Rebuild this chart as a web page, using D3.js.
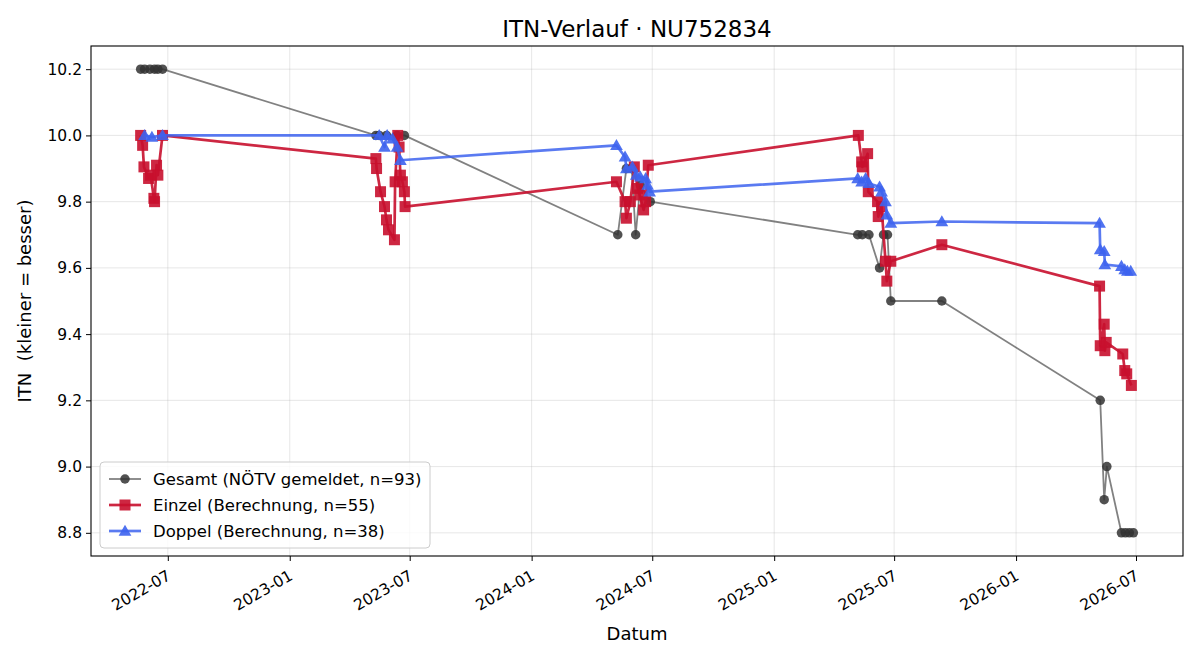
<!DOCTYPE html>
<html>
<head>
<meta charset="utf-8">
<script src="https://cdn.jsdelivr.net/npm/d3@7"></script>
<style>
  body { margin: 0; background: #fff; }
  svg text { font-family: "DejaVu Sans", sans-serif; }
</style>
</head>
<body>
<div id="chart"></div>
<script>
// ITN history per date, three series
const gesamtDates = [
    "2022-05-21", "2022-05-27", "2022-06-04", "2022-06-11", "2022-06-16", "2022-06-23",
    "2023-05-11", "2023-05-16", "2023-05-27", "2023-06-12", "2023-06-23",
    "2024-05-10", "2024-05-23", "2024-05-31", "2024-06-06", "2024-06-13", "2024-06-28",
    "2025-05-07", "2025-05-14", "2025-05-24", "2025-06-09", "2025-06-15", "2025-06-21", "2025-06-26",
    "2025-09-11",
    "2026-05-08", "2026-05-14", "2026-05-18", "2026-06-09", "2026-06-15", "2026-06-21", "2026-06-27"
];
const gesamtValues = [
    10.2, 10.2, 10.2, 10.2, 10.2, 10.2,
    10.0, 10.0, 10.0, 10.0, 10.0,
    9.7, 9.9, 9.9, 9.7, 9.85, 9.8,
    9.7, 9.7, 9.7, 9.6, 9.7, 9.7, 9.5,
    9.5,
    9.2, 8.9, 9.0, 8.8, 8.8, 8.8, 8.8
];

const einzelDates = [
    "2022-05-21", "2022-05-24", "2022-05-26", "2022-06-02", "2022-06-05", "2022-06-10",
    "2022-06-11", "2022-06-14", "2022-06-16", "2022-06-23",
    "2023-05-11", "2023-05-12", "2023-05-18", "2023-05-24", "2023-05-27", "2023-05-30",
    "2023-06-08", "2023-06-09", "2023-06-13", "2023-06-15", "2023-06-17", "2023-06-20",
    "2023-06-23", "2023-06-24",
    "2024-05-08", "2024-05-21", "2024-05-23", "2024-05-29", "2024-06-04", "2024-06-09",
    "2024-06-12", "2024-06-18", "2024-06-21", "2024-06-25",
    "2025-05-08", "2025-05-13", "2025-05-14", "2025-05-22", "2025-05-23", "2025-06-06",
    "2025-06-07", "2025-06-12", "2025-06-18", "2025-06-20", "2025-06-26",
    "2025-09-11",
    "2026-05-07", "2026-05-08", "2026-05-14", "2026-05-15", "2026-05-17", "2026-06-11",
    "2026-06-14", "2026-06-17", "2026-06-24"
];
const einzelValues = [
    10.0, 9.97, 9.905, 9.87, 9.88, 9.81,
    9.80, 9.91, 9.88, 10.0,
    9.93, 9.90, 9.83, 9.785, 9.745, 9.715,
    9.685, 9.86, 10.0, 9.965, 9.88, 9.86,
    9.83, 9.785,
    9.86, 9.80, 9.75, 9.80, 9.905, 9.84,
    9.82, 9.775, 9.80, 9.91,
    10.0, 9.92, 9.905, 9.945, 9.83, 9.80,
    9.755, 9.785, 9.62, 9.56, 9.62,
    9.67,
    9.545, 9.365, 9.43, 9.35, 9.375, 9.34,
    9.29, 9.28, 9.245
];

const doppelDates = [
    "2022-05-27", "2022-06-07", "2022-06-23",
    "2023-05-16", "2023-05-24", "2023-05-28", "2023-06-05", "2023-06-12", "2023-06-17",
    "2024-05-08", "2024-05-21", "2024-05-23", "2024-06-01", "2024-06-07", "2024-06-13",
    "2024-06-21", "2024-06-24", "2024-06-27",
    "2025-05-07", "2025-05-13", "2025-05-19", "2025-05-24", "2025-06-09", "2025-06-12",
    "2025-06-18", "2025-06-20", "2025-06-26",
    "2025-09-11",
    "2026-05-07", "2026-05-08", "2026-05-14", "2026-05-15", "2026-06-09", "2026-06-14",
    "2026-06-18", "2026-06-23"
];
const doppelValues = [
    10.0, 9.995, 10.0,
    10.0, 9.965, 10.0, 9.99, 9.965, 9.925,
    9.97, 9.935, 9.90, 9.905, 9.88, 9.875,
    9.87, 9.85, 9.83,
    9.87, 9.86, 9.87, 9.855, 9.845, 9.83,
    9.80, 9.76, 9.735,
    9.74,
    9.735, 9.655, 9.65, 9.61, 9.605, 9.595,
    9.59, 9.59
];

const seriesNames = [
    "Gesamt (NÖTV gemeldet, n=93)",
    "Einzel (Berechnung, n=55)",
    "Doppel (Berechnung, n=38)"
];
const yTicks = [8.8, 9.0, 9.2, 9.4, 9.6, 9.8, 10.0, 10.2];

const parseDate = d3.timeParse("%Y-%m-%d");
const zip = (dates, values) => dates.map((d, i) => ({date: parseDate(d), value: values[i]}));

const series = [
    {name: seriesNames[0], data: zip(gesamtDates, gesamtValues), color: "#333333", alpha: 0.62, markerAlpha: 0.85, lw: 1.8, marker: "circle", size: 9.5},
    {name: seriesNames[1], data: zip(einzelDates, einzelValues), color: "#c8102e", alpha: 0.9, markerAlpha: 0.9, lw: 2.7, marker: "square", size: 11},
    {name: seriesNames[2], data: zip(doppelDates, doppelValues), color: "#3d63ee", alpha: 0.85, markerAlpha: 0.9, lw: 2.7, marker: "triangle", size: 12.5}
];

const totalWidth = 1200;
const totalHeight = 660;
const margin = {top: 46, right: 17, bottom: 104, left: 91};
const width = totalWidth - margin.left - margin.right;
const height = totalHeight - margin.top - margin.bottom;

const svg = d3.select("#chart")
    .append("svg")
    .attr("width", totalWidth)
    .attr("height", totalHeight);

const g = svg.append("g")
    .attr("transform", `translate(${margin.left},${margin.top})`);

// matplotlib-like 5% padding on both axes
const allDates = series.flatMap(s => s.data.map(d => +d.date));
const allValues = series.flatMap(s => s.data.map(d => d.value));
const dMin = d3.min(allDates), dMax = d3.max(allDates);
const dPad = (dMax - dMin) * 0.05;
const vMin = d3.min(allValues), vMax = d3.max(allValues);
const vPad = (vMax - vMin) * 0.05;

const x = d3.scaleTime()
    .domain([new Date(dMin - dPad), new Date(dMax + dPad)])
    .range([0, width]);

const y = d3.scaleLinear()
    .domain([vMin - vPad, vMax + vPad])
    .range([height, 0]);

const xTicks = d3.timeMonth.every(6).range(x.domain()[0], x.domain()[1]);

// grid
g.append("g")
    .selectAll("line")
    .data(xTicks)
    .enter()
    .append("line")
    .attr("x1", d => x(d)).attr("x2", d => x(d))
    .attr("y1", 0).attr("y2", height)
    .attr("stroke", "#b0b0b0")
    .attr("stroke-opacity", 0.3)
    .attr("stroke-width", 1);
g.append("g")
    .selectAll("line")
    .data(yTicks)
    .enter()
    .append("line")
    .attr("x1", 0).attr("x2", width)
    .attr("y1", d => y(d)).attr("y2", d => y(d))
    .attr("stroke", "#b0b0b0")
    .attr("stroke-opacity", 0.3)
    .attr("stroke-width", 1);

const line = d3.line()
    .x(d => x(d.date))
    .y(d => y(d.value));

const symbolType = {circle: d3.symbolCircle, square: d3.symbolSquare, triangle: d3.symbolTriangle};
const symbolArea = s => s.marker === "triangle" ? s.size * s.size * 0.45
    : (s.marker === "circle" ? Math.PI * s.size * s.size / 4 : s.size * s.size);

series.forEach(s => {
    g.append("path")
        .datum(s.data)
        .attr("fill", "none")
        .attr("stroke", s.color)
        .attr("stroke-opacity", s.alpha)
        .attr("stroke-width", s.lw)
        .attr("stroke-linejoin", "round")
        .attr("d", line);

    g.append("g")
        .selectAll("path")
        .data(s.data)
        .enter()
        .append("path")
        .attr("transform", d => `translate(${x(d.date)},${y(d.value) + (s.marker === "triangle" ? 1 : 0)})`)
        .attr("d", d3.symbol().type(symbolType[s.marker]).size(symbolArea(s)))
        .attr("fill", s.color)
        .attr("fill-opacity", s.markerAlpha);
});

// axes
const xAxis = d3.axisBottom(x)
    .tickValues(xTicks)
    .tickFormat(d3.timeFormat("%Y-%m"))
    .tickSizeOuter(0)
    .tickSize(5);
const xg = g.append("g")
    .attr("transform", `translate(0,${height})`)
    .call(xAxis);
xg.selectAll("text")
    .attr("font-size", 15.5)
    .attr("fill", "#000")
    .attr("text-anchor", "end")
    .attr("dy", null)
    .attr("transform", "translate(-2,13) rotate(-30)")
    .attr("x", 0)
    .attr("y", 0)
    .attr("dominant-baseline", "hanging");

const yAxis = d3.axisLeft(y)
    .tickValues(yTicks)
    .tickFormat(d3.format(".1f"))
    .tickSizeOuter(0)
    .tickSize(5);
const yg = g.append("g").call(yAxis);
yg.selectAll("text")
    .attr("font-size", 15.5)
    .attr("fill", "#000")
    .attr("x", -9);

[xg, yg].forEach(a => {
    a.select(".domain").remove();
    a.selectAll(".tick line").attr("stroke", "#000").attr("stroke-width", 1);
});

// frame
g.append("rect")
    .attr("x", 0).attr("y", 0)
    .attr("width", width).attr("height", height)
    .attr("fill", "none")
    .attr("stroke", "#000")
    .attr("stroke-width", 1.1);

// labels
svg.append("text")
    .attr("x", margin.left + width / 2)
    .attr("y", 37)
    .attr("text-anchor", "middle")
    .attr("font-size", 23)
    .text("ITN-Verlauf · NU752834");
svg.append("text")
    .attr("x", margin.left + width / 2)
    .attr("y", 640)
    .attr("text-anchor", "middle")
    .attr("font-size", 18)
    .text("Datum");
svg.append("text")
    .attr("transform", `translate(31, ${margin.top + height / 2}) rotate(-90)`)
    .attr("text-anchor", "middle")
    .attr("font-size", 18)
    .attr("xml:space", "preserve")
    .style("white-space", "pre")
    .text("ITN  (kleiner = besser)");

// legend, lower left
const legend = svg.append("g")
    .attr("transform", `translate(${margin.left + 9}, 462)`);
legend.append("rect")
    .attr("width", 330)
    .attr("height", 86)
    .attr("rx", 4)
    .attr("fill", "#fff")
    .attr("fill-opacity", 0.8)
    .attr("stroke", "#cccccc")
    .attr("stroke-width", 1);
series.forEach((s, i) => {
    const ly = 17 + i * 26;
    legend.append("line")
        .attr("x1", 9).attr("x2", 41)
        .attr("y1", ly).attr("y2", ly)
        .attr("stroke", s.color)
        .attr("stroke-opacity", s.alpha)
        .attr("stroke-width", s.lw);
    legend.append("path")
        .attr("transform", `translate(25,${ly + (s.marker === "triangle" ? 1 : 0)})`)
        .attr("d", d3.symbol().type(symbolType[s.marker]).size(symbolArea(s)))
        .attr("fill", s.color)
        .attr("fill-opacity", s.markerAlpha);
    legend.append("text")
        .attr("x", 53)
        .attr("y", ly)
        .attr("dy", "0.35em")
        .attr("font-size", 16.5)
        .text(s.name);
});
</script>
</body>
</html>
